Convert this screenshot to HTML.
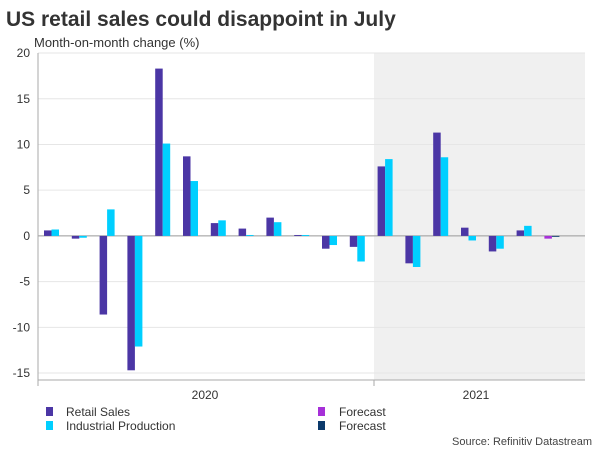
<!DOCTYPE html>
<html><head><meta charset="utf-8"><style>
body{margin:0;width:600px;height:450px;background:#fff;font-family:"Liberation Sans",sans-serif;overflow:hidden}
</style></head><body>
<svg width="600" height="450">
<text x="6" y="26" font-size="21" font-weight="bold" fill="#333">US retail sales could disappoint in July</text>
<text x="34" y="47" font-size="13" fill="#333">Month-on-month change (%)</text>
<rect x="374" y="53" width="211" height="327" fill="#f0f0f0"/>
<g id="grid"></g><g id="bars"></g>
<line x1="38" y1="53" x2="38" y2="380" stroke="#aaa"/>
<line x1="38" y1="380" x2="585" y2="380" stroke="#aaa"/>
<line x1="374" y1="380" x2="374" y2="386" stroke="#aaa"/>
<line x1="38" y1="380" x2="38" y2="386" stroke="#aaa"/>
<text x="205" y="399" font-size="12" fill="#333" text-anchor="middle">2020</text>
<text x="476" y="399" font-size="12" fill="#333" text-anchor="middle">2021</text>
<g font-size="12" fill="#333">
<rect x="46" y="407" width="7" height="9" fill="#4b36a5"/>
<text x="66" y="416">Retail Sales</text>
<rect x="46" y="421" width="7" height="9" fill="#00cfff"/>
<text x="66" y="430">Industrial Production</text>
<rect x="318" y="407" width="7" height="9" fill="#a630d8"/>
<text x="339" y="416">Forecast</text>
<rect x="318" y="421" width="7" height="9" fill="#0b3a6b"/>
<text x="339" y="430">Forecast</text>
</g>
<text x="592" y="445" font-size="11" fill="#444" text-anchor="end">Source: Refinitiv Datastream</text>
</svg>
<script>
const ticks=[20,15,10,5,0,-5,-10,-15];
const retail=[0.6,-0.3,-8.6,-14.7,18.3,8.7,1.4,0.8,2.0,0.1,-1.4,-1.2,7.6,-3.0,11.3,0.9,-1.7,0.6];
const industrial=[0.7,-0.2,2.9,-12.1,10.1,6.0,1.7,0.1,1.5,0.1,-1.0,-2.8,8.4,-3.4,8.6,-0.5,-1.4,1.1];
const forecastRetail=[-0.3];
const forecastIndustrial=[-0.1];
const NS='http://www.w3.org/2000/svg';
function y(v){return 235.9-v*9.143;}
function x(i){return 44+i*27.8;}
const g=document.getElementById('grid'),b=document.getElementById('bars');
ticks.forEach(t=>{
 const l=document.createElementNS(NS,'line');
 l.setAttribute('x1',38);l.setAttribute('x2',585);l.setAttribute('y1',y(t));l.setAttribute('y2',y(t));
 l.setAttribute('stroke',t===0?'#999':'#e6e6e6');
 
 
 g.appendChild(l);
 const tx=document.createElementNS(NS,'text');
 tx.setAttribute('x',30);tx.setAttribute('y',y(t)+4);tx.setAttribute('text-anchor','end');
 tx.setAttribute('font-size','12');tx.setAttribute('fill','#333');tx.textContent=t;
 
 
 g.appendChild(tx);
});
function bar(i,off,v,col,name){
 const r=document.createElementNS(NS,'rect');
 r.setAttribute('x',x(i)+off);r.setAttribute('width',7.5);
 r.setAttribute('y',Math.min(y(v),y(0)));r.setAttribute('height',Math.max(Math.abs(y(v)-y(0)),0.8));
 r.setAttribute('fill',col);
 
 
 b.appendChild(r);
}
retail.forEach((v,i)=>bar(i,0,v,'#4b36a5','bar-retail'));
industrial.forEach((v,i)=>bar(i,7.5,v,'#00cfff','bar-industrial'));
forecastRetail.forEach((v,i)=>bar(retail.length+i,0,v,'#a630d8','bar-forecast-retail'));
forecastIndustrial.forEach((v,i)=>bar(industrial.length+i,7.5,v,'#0b3a6b','bar-forecast-industrial'));
</script>
</body></html>
